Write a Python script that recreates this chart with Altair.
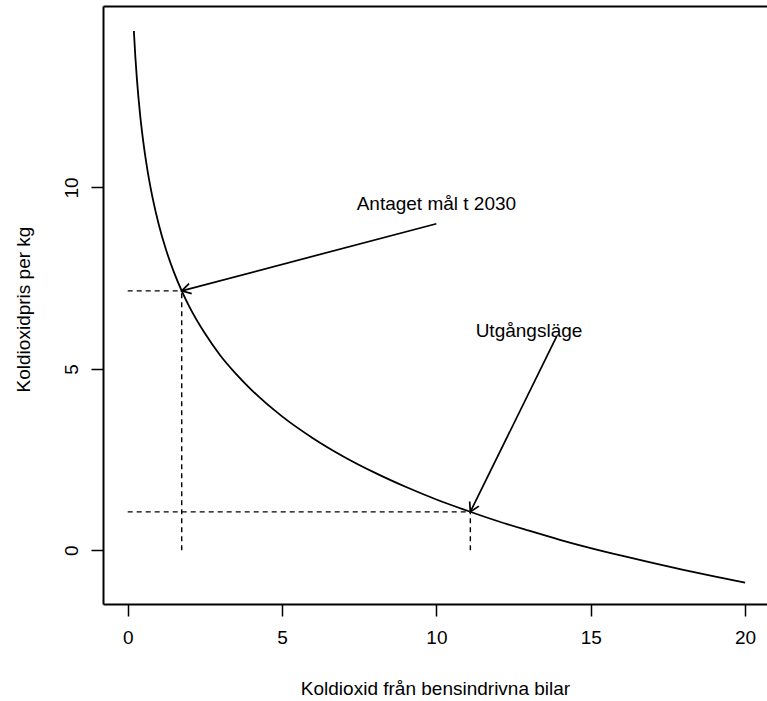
import math
import altair as alt
import pandas as pd

# ---- data ----
curve_x = [0.2, 0.25, 0.3, 0.4, 0.5, 0.6, 0.7, 0.8, 1.0, 1.25, 1.5, 1.75, 2, 2.5, 3, 3.5, 4,
           5, 6, 7, 8, 9, 10, 11, 12, 13, 14, 15, 16, 17, 18, 19, 20]
curve_y = [14.31, 13.57, 12.97, 12.02, 11.29, 10.69, 10.18, 9.74, 9.00, 8.26, 7.66, 7.15, 6.71,
           5.98, 5.37, 4.87, 4.43, 3.69, 3.09, 2.58, 2.14, 1.75, 1.40, 1.09, 0.80, 0.54, 0.29,
           0.06, -0.15, -0.35, -0.54, -0.72, -0.89]

mark_x = [1.75, 11.1]          # goal 2030, starting point
mark_y = [7.15, 1.06]

arrow_x0 = [10.0, 13.9]
arrow_y0 = [9.0, 5.9]

label_text = ["Antaget mål t 2030", "Utgångsläge"]
label_x = [10.0, 13.0]
label_y = [9.55, 6.03]

x_ticks = [0, 5, 10, 15, 20]
y_ticks = [0, 5, 10]

x_title = "Koldioxid från bensindrivna bilar"
y_title = "Koldioxidpris per kg"

# ---- layout ----
W, H = 664, 598
X_DOM = [-0.8, 20.71]
Y_DOM = [-1.48, 15.0]
FONT = "Liberation Sans"
FS = 19

xs = alt.Scale(domain=X_DOM, nice=False, zero=False)
ys = alt.Scale(domain=Y_DOM, nice=False, zero=False)

px_per_x = W / (X_DOM[1] - X_DOM[0])
px_per_y = H / (Y_DOM[1] - Y_DOM[0])

curve_df = pd.DataFrame({"x": curve_x, "y": curve_y})

guide_rows = []
for mx, my in zip(mark_x, mark_y):
    guide_rows.append({"x": 0, "x2": mx, "y": my, "y2": my})
    guide_rows.append({"x": mx, "x2": mx, "y": 0, "y2": my})
guide_df = pd.DataFrame(guide_rows)

arrow_rows = []
for x0, y0, x1, y1 in zip(arrow_x0, arrow_y0, mark_x, mark_y):
    ang = math.degrees(math.atan2(-(y1 - y0) * px_per_y, (x1 - x0) * px_per_x)) % 360
    arrow_rows.append({"x": x0, "y": y0, "x2": x1, "y2": y1, "angle": ang})
arrow_df = pd.DataFrame(arrow_rows)

label_df = pd.DataFrame({"t": label_text, "x": label_x, "y": label_y})

y_axis = alt.Axis(values=y_ticks, tickSize=12, labelAngle=-90, labelAlign="center",
                  labelBaseline="bottom", labelPadding=10, title=y_title,
                  titleAngle=-90, titleX=-80, titleY=H / 2 + 4, titleAlign="center",
                  titleBaseline="middle", grid=False)
x_axis_bottom = alt.Axis(values=x_ticks, tickSize=12, labelPadding=12, title=x_title,
                         titleY=84, titleBaseline="middle", grid=False,
                         labelFlush=False)
x_axis_top = alt.Axis(orient="top", labels=False, ticks=False, title=None, grid=False,
                      domain=True)

curve = alt.Chart(curve_df).mark_line(color="black", strokeWidth=1.8,
                                      interpolate="monotone").encode(
    x=alt.X("x:Q", scale=xs, axis=x_axis_bottom),
    y=alt.Y("y:Q", scale=ys, axis=y_axis),
)

guides = alt.Chart(guide_df).mark_rule(color="black", strokeWidth=1.4,
                                       strokeDash=[5, 4]).encode(
    x=alt.X("x:Q", scale=xs, axis=None), x2="x2:Q",
    y=alt.Y("y:Q", scale=ys, axis=y_axis), y2="y2:Q",
)

shafts = alt.Chart(arrow_df).mark_rule(color="black", strokeWidth=1.7).encode(
    x=alt.X("x:Q", scale=xs, axis=None), x2="x2:Q",
    y=alt.Y("y:Q", scale=ys, axis=y_axis), y2="y2:Q",
)

heads = alt.Chart(arrow_df).mark_point(
    shape="M -1 -0.577 L 0 0 L -1 0.577", filled=False, size=320,
    strokeWidth=1.7, color="black", opacity=1,
).encode(
    x=alt.X("x2:Q", scale=xs, axis=None),
    y=alt.Y("y2:Q", scale=ys, axis=y_axis),
    angle=alt.Angle("angle:Q", scale=None),
)

labels = alt.Chart(label_df).mark_text(font=FONT, fontSize=FS, color="black",
                                       align="center", baseline="middle").encode(
    x=alt.X("x:Q", scale=xs, axis=x_axis_top),
    y=alt.Y("y:Q", scale=ys, axis=y_axis),
    text="t:N",
)

chart = alt.layer(curve, guides, shafts, heads, labels).resolve_axis(
    x="independent"
).properties(
    width=W, height=H,
    padding={"left": 103, "top": 6, "right": 0, "bottom": 97},
    autosize=alt.AutoSizeParams(type="none"),
).configure_view(stroke=None).configure_axis(
    domainColor="black", domainWidth=2, tickColor="black", tickWidth=1.5,
    labelColor="black", labelFont=FONT, labelFontSize=FS,
    titleColor="black", titleFont=FONT, titleFontSize=FS, titleFontWeight="normal",
)

chart.save("out.html", embed_options={"renderer": "svg", "actions": False})
